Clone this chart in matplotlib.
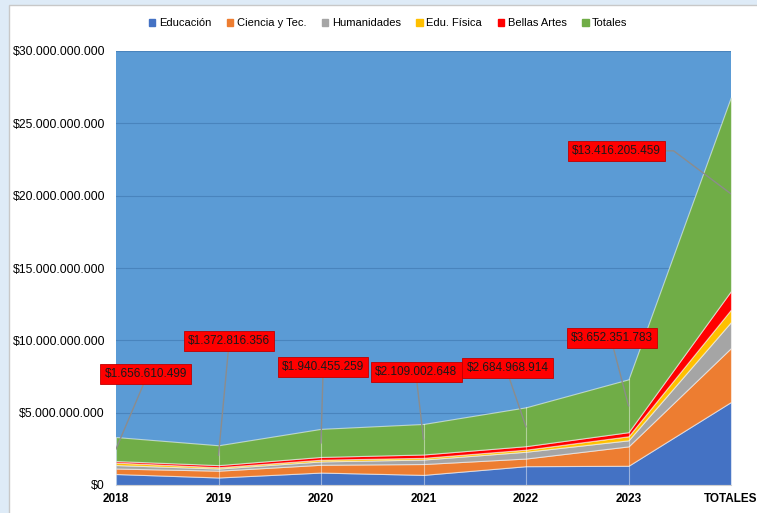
import matplotlib
matplotlib.use("Agg")
import matplotlib.pyplot as plt
import matplotlib.patches as mpatches
import numpy as np
from matplotlib.ticker import FuncFormatter, MultipleLocator

plt.rcParams["font.family"] = ["Liberation Sans", "DejaVu Sans"]

# Datos (pesos)
categorias = ["2018", "2019", "2020", "2021", "2022", "2023", "TOTALES"]
educacion = [0.76e9, 0.52e9, 0.86e9, 0.70e9, 1.30e9, 1.33e9, 5.74e9]
ciencia = [0.38e9, 0.47e9, 0.54e9, 0.75e9, 0.53e9, 1.34e9, 3.73e9]
humanidades = [0.24e9, 0.15e9, 0.23e9, 0.31e9, 0.47e9, 0.42e9, 1.80e9]
edu_fisica = [0.17e9, 0.09e9, 0.12e9, 0.12e9, 0.145e9, 0.28e9, 0.86e9]
bellas_artes = [0.107e9, 0.143e9, 0.19e9, 0.229e9, 0.24e9, 0.282e9, 1.286e9]
totales = [1656610499, 1372816356, 1940455259, 2109002648, 2684968914,
           3652351783, 13416205459]

series = [("Educación", educacion, "#4472C4"),
          ("Ciencia y Tec.", ciencia, "#ED7D31"),
          ("Humanidades", humanidades, "#A5A5A5"),
          ("Edu. Física", edu_fisica, "#FFC000"),
          ("Bellas Artes", bellas_artes, "#FF0000"),
          ("Totales", totales, "#70AD47")]

# posiciones de las etiquetas (indice x, valor y)
label_pos = [(0.29, 7.68e9), (1.10, 9.96e9), (2.02, 8.16e9), (2.93, 7.81e9),
             (3.82, 8.09e9), (4.84, 10.17e9), (4.88, 23.1e9)]


def pesos(v, pos):
    return "${:,.0f}".format(v).replace(",", ".")


fig = plt.figure(figsize=(7.57, 5.13), dpi=100)
fig.patch.set_facecolor("#DEEBF7")
# area blanca del grafico
marco = mpatches.Rectangle((9 / 757, -0.01), 1, 1 - 5 / 513 + 0.01,
                           transform=fig.transFigure, facecolor="white",
                           edgecolor="#C8C8C8", lw=1.0, zorder=-1)
fig.add_artist(marco)

ax = fig.add_axes([116 / 757, 28 / 513, 615 / 757, 434 / 513])
ax.set_facecolor("#5B9BD5")

x = np.arange(len(categorias))
ys = [np.array(s[1], dtype=float) for s in series]
ax.stackplot(x, *ys, colors=[s[2] for s in series],
             labels=[s[0] for s in series],
             edgecolor=(1, 1, 1, 0.55), linewidth=0.8, zorder=2)

# lineas verticales en cada categoria
tope = np.sum(ys, axis=0)
for i in x[1:-1]:
    ax.plot([i, i], [0, tope[i]], color=(1, 1, 1, 0.45), lw=0.8, zorder=3)

ax.set_xlim(0, len(categorias) - 1)
ax.set_ylim(0, 30e9)
ax.yaxis.set_major_locator(MultipleLocator(5e9))
ax.yaxis.set_major_formatter(FuncFormatter(pesos))
ax.grid(axis="y", color="#3E75AD", alpha=0.6, lw=0.8, zorder=1)
ax.set_axisbelow(True)
ax.set_xticks(x)
ax.set_xticklabels(categorias, fontweight="bold", fontsize=8.5)
ax.tick_params(axis="both", length=0, pad=6)
ax.tick_params(axis="y", labelsize=8.8, pad=8)
for sp in ["top", "right", "left"]:
    ax.spines[sp].set_visible(False)
ax.spines["bottom"].set_color("#D0D0D0")

# etiquetas de Totales
base = np.sum(ys[:-1], axis=0)
for i, (lx, ly) in enumerate(label_pos):
    ay = base[i] + totales[i] / 2
    txt = pesos(totales[i], None)
    if i == len(label_pos) - 1:
        ax.plot([lx + 0.43, lx + 0.56, i], [ly, ly, ay], color="#8C8C8C",
                lw=1.0, zorder=4)
    else:
        ax.plot([lx, i], [ly - 0.35e9, ay], color="#8C8C8C", lw=1.0, zorder=4)
    ax.text(lx, ly, txt, ha="center", va="center", fontsize=8.5,
            color="#1A1A1A", zorder=5,
            bbox=dict(boxstyle="square,pad=0.35", facecolor="#FF0000",
                      edgecolor="#C00000", lw=0.6))

handles = [mpatches.Patch(color=s[2], label=s[0]) for s in series]
fig.legend(handles=handles, loc="center", bbox_to_anchor=(388 / 757, 1 - 23 / 513),
           ncol=6, frameon=False, fontsize=8, handlelength=0.6,
           handleheight=0.6, handletextpad=0.3, columnspacing=1.4)

fig.savefig("out.png", dpi=100)
